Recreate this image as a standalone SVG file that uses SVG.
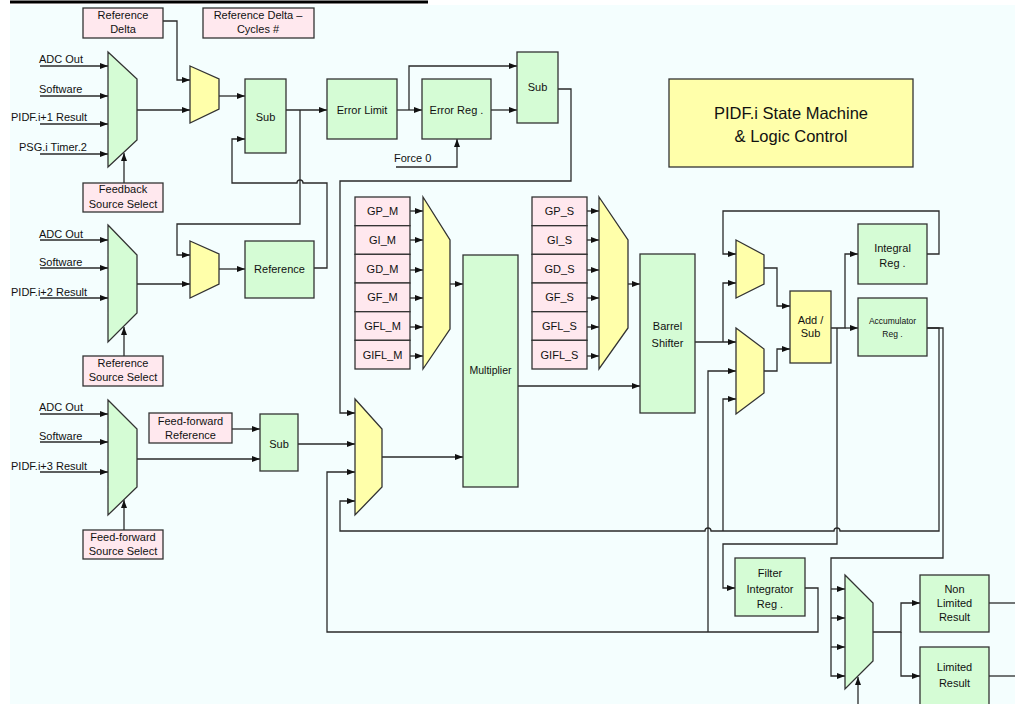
<svg xmlns="http://www.w3.org/2000/svg" width="1015" height="704" viewBox="0 0 1015 704">
<defs>
<marker id="ah" markerUnits="userSpaceOnUse" markerWidth="8" markerHeight="6" refX="8" refY="3" orient="auto"><path d="M0,0 L8,3 L0,6 z" fill="#111"/></marker>
<style>
.g{fill:#d5fcd5;stroke:#333;stroke-width:1.3}
.p{fill:#ffe8ee;stroke:#333;stroke-width:1.3}
.y{fill:#ffffaa;stroke:#333;stroke-width:1.3}
.w{fill:none;stroke:#2a2a2a;stroke-width:1.3}
.a{marker-end:url(#ah)}
text{font-family:"Liberation Sans",Arial,sans-serif;font-size:11px;fill:#111}
.c{text-anchor:middle}
</style>
</defs>
<rect x="0" y="0" width="1015" height="704" fill="#ffffff"/>
<rect x="10" y="5" width="1005" height="699" fill="#f4fefe"/>
<line x1="10" y1="2" x2="428" y2="2" stroke="#000" stroke-width="3"/>

<g id="connectors">
<path class="w a" d="M40,66 H108"/>
<path class="w a" d="M40,96 H108"/>
<path class="w a" d="M40,124 H108"/>
<path class="w a" d="M40,154 H108"/>
<path class="w a" d="M124,183 V153"/>
<path class="w a" d="M137,110 H190"/>
<path class="w a" d="M163,21 H177 V80 H190"/>
<path class="w a" d="M219,96 H245"/>
<path class="w a" d="M286,110 H327"/>
<path class="w a" d="M300,110 V224 H177 V255 H190"/>
<path class="w a" d="M314,268 H327 V183 H303 A3,3 0 0 0 297,183 H232 V139 H245"/>
<path class="w a" d="M40,240 H108"/>
<path class="w a" d="M40,268 H108"/>
<path class="w a" d="M40,298 H108"/>
<path class="w a" d="M124,356 V327"/>
<path class="w a" d="M137,284 H190"/>
<path class="w a" d="M219,269 H245"/>
<path class="w a" d="M40,414 H108"/>
<path class="w a" d="M40,442 H108"/>
<path class="w a" d="M40,472 H108"/>
<path class="w a" d="M124,530 V500"/>
<path class="w a" d="M137,459 H260"/>
<path class="w a" d="M232,429 H260"/>
<path class="w a" d="M298,444 H355"/>
<path class="w a" d="M397,110 H422"/>
<path class="w a" d="M409,110 V66 H517"/>
<path class="w a" d="M491,110 H517"/>
<path class="w a" d="M396,167 H457 V139"/>
<path class="w a" d="M558,89 H571 V181 H340 V413 H355"/>
<path class="w a" d="M410,211 H423"/>
<path class="w a" d="M410,240 H423"/>
<path class="w a" d="M410,270 H423"/>
<path class="w a" d="M410,298 H423"/>
<path class="w a" d="M410,327 H423"/>
<path class="w a" d="M410,356 H423"/>
<path class="w a" d="M450,284 H463"/>
<path class="w a" d="M587,211 H599"/>
<path class="w a" d="M587,240 H599"/>
<path class="w a" d="M587,270 H599"/>
<path class="w a" d="M587,298 H599"/>
<path class="w a" d="M587,327 H599"/>
<path class="w a" d="M587,356 H599"/>
<path class="w a" d="M628,284 H640"/>
<path class="w a" d="M518,386 H640"/>
<path class="w a" d="M382,457 H463"/>
<path class="w a" d="M695,342 H736"/>
<path class="w a" d="M723,342 V283 H736"/>
<path class="w a" d="M927,254 H939 V211 H723 V254 H736"/>
<path class="w a" d="M764,268 H777 V306 H790"/>
<path class="w a" d="M764,371 H777 V349 H790"/>
<path class="w a" d="M831,328 H845 V254 H858"/>
<path class="w a" d="M845,328 H858"/>
<path class="w a" d="M837,328 V544 H723 V588 H735"/>
<path class="w a" d="M927,328 H939 V531 H840 A3,3 0 0 0 834,531 H711 A3,3 0 0 0 705,531 H340 V501 H355"/>
<path class="w a" d="M723,531 V399 H736"/>
<path class="w a" d="M927,328 H943 V558 H831 V676 H845"/>
<path class="w a" d="M831,589 H845"/>
<path class="w a" d="M831,618 H845"/>
<path class="w a" d="M831,647 H845"/>
<path class="w a" d="M805,588 H818 V632 H327 V472 H355"/>
<path class="w a" d="M708,632 V371 H736"/>
<path class="w a" d="M873,632 H901 V603 H920"/>
<path class="w a" d="M901,632 V676 H920"/>
<path class="w a" d="M858,704 V677"/>
<path class="w" d="M989,603 H1015"/>
<path class="w" d="M989,676 H1015"/>
</g>

<g id="input-labels">
<text x="39" y="63">ADC Out</text>
<text x="39" y="93">Software</text>
<text x="11" y="121">PIDF.i+1  Result</text>
<text x="19" y="151">PSG.i Timer.2</text>
<text x="39" y="238">ADC Out</text>
<text x="39" y="266">Software</text>
<text x="11" y="296">PIDF.i+2  Result</text>
<text x="39" y="411">ADC Out</text>
<text x="39" y="440">Software</text>
<text x="11" y="470">PIDF.i+3  Result</text>
<text x="394" y="162">Force  0</text>
</g>

<g id="ref-delta"><rect class="p" x="83" y="8" width="80" height="30"/><text class="c" x="123" y="19">Reference</text><text class="c" x="123" y="33">Delta</text></g>
<g id="ref-delta-cycles"><rect class="p" x="203" y="8" width="111" height="30"/><text class="c" x="258" y="19">Reference Delta  –</text><text class="c" x="258" y="33">Cycles  #</text></g>
<g id="mux1"><polygon class="g" points="108,52 137,79 137,140 108,167"/></g>
<g id="fss"><rect class="p" x="83" y="183" width="80" height="29"/><text class="c" x="123" y="193">Feedback</text><text class="c" x="123" y="208">Source Select</text></g>
<g id="ymux1"><polygon class="y" points="190,66 219,79 219,109 190,123"/></g>
<g id="sub1"><rect class="g" x="245" y="79" width="41" height="74"/><text class="c" x="265.5" y="121">Sub</text></g>
<g id="mux2"><polygon class="g" points="108,225 137,255 137,313 108,342"/></g>
<g id="rss"><rect class="p" x="83" y="356" width="80" height="30"/><text class="c" x="123" y="367">Reference</text><text class="c" x="123" y="381">Source Select</text></g>
<g id="ymux2"><polygon class="y" points="190,241 219,254 219,284 190,298"/></g>
<g id="reference"><rect class="g" x="245" y="241" width="69" height="57"/><text class="c" x="279.5" y="273">Reference</text></g>
<g id="mux3"><polygon class="g" points="108,400 137,429 137,487 108,515"/></g>
<g id="ffss"><rect class="p" x="83" y="530" width="80" height="29"/><text class="c" x="123" y="541">Feed-forward</text><text class="c" x="123" y="555">Source Select</text></g>
<g id="ffref"><rect class="p" x="149" y="413" width="83" height="30"/><text class="c" x="190.5" y="425">Feed-forward</text><text class="c" x="190.5" y="439">Reference</text></g>
<g id="sub3"><rect class="g" x="260" y="414" width="38" height="57"/><text class="c" x="279" y="448">Sub</text></g>
<g id="error-limit"><rect class="g" x="327" y="79" width="70" height="60"/><text class="c" x="362" y="114">Error Limit</text></g>
<g id="error-reg"><rect class="g" x="422" y="79" width="69" height="60"/><text class="c" x="456.5" y="114">Error Reg .</text></g>
<g id="sub-top"><rect class="g" x="517" y="52" width="41" height="71"/><text class="c" x="537.5" y="91">Sub</text></g>
<g id="state-machine"><rect class="y" x="669" y="79" width="244" height="88"/><text class="c" x="791" y="119" style="font-size:16.5px">PIDF.i State Machine</text><text class="c" x="791" y="142" style="font-size:16.5px">&amp; Logic Control</text></g>

<g id="gains-m">
<rect class="p" x="355" y="197" width="55" height="28.7"/><text class="c" x="382.5" y="215">GP_M</text>
<rect class="p" x="355" y="225.7" width="55" height="28.7"/><text class="c" x="382.5" y="244">GI_M</text>
<rect class="p" x="355" y="254.3" width="55" height="28.7"/><text class="c" x="382.5" y="273">GD_M</text>
<rect class="p" x="355" y="283" width="55" height="28.7"/><text class="c" x="382.5" y="301">GF_M</text>
<rect class="p" x="355" y="311.7" width="55" height="28.7"/><text class="c" x="382.5" y="330">GFL_M</text>
<rect class="p" x="355" y="340.3" width="55" height="28.7"/><text class="c" x="382.5" y="359">GIFL_M</text>
</g>
<g id="mux-m"><polygon class="y" points="423,197 450,240 450,329 423,369"/></g>
<g id="multiplier"><rect class="g" x="463" y="255" width="55" height="232"/><text class="c" x="490.5" y="374" style="font-size:10.5px">Multiplier</text></g>
<g id="gains-s">
<rect class="p" x="532" y="197" width="55" height="28.7"/><text class="c" x="559.5" y="215">GP_S</text>
<rect class="p" x="532" y="225.7" width="55" height="28.7"/><text class="c" x="559.5" y="244">GI_S</text>
<rect class="p" x="532" y="254.3" width="55" height="28.7"/><text class="c" x="559.5" y="273">GD_S</text>
<rect class="p" x="532" y="283" width="55" height="28.7"/><text class="c" x="559.5" y="301">GF_S</text>
<rect class="p" x="532" y="311.7" width="55" height="28.7"/><text class="c" x="559.5" y="330">GFL_S</text>
<rect class="p" x="532" y="340.3" width="55" height="28.7"/><text class="c" x="559.5" y="359">GIFL_S</text>
</g>
<g id="mux-s"><polygon class="y" points="599,197 628,240 628,328 599,369"/></g>
<g id="barrel"><rect class="g" x="640" y="254" width="55" height="159"/><text class="c" x="667.5" y="330">Barrel</text><text class="c" x="667.5" y="347">Shifter</text></g>
<g id="ymux3"><polygon class="y" points="355,399 382,429 382,487 355,515"/></g>
<g id="mux-a"><polygon class="y" points="736,240 764,255 764,284 736,298"/></g>
<g id="mux-b"><polygon class="y" points="736,328 764,349 764,393 736,414"/></g>
<g id="add-sub"><rect class="y" x="790" y="291" width="41" height="72"/><text class="c" x="810.5" y="324">Add  /</text><text class="c" x="810.5" y="337">Sub</text></g>
<g id="integral"><rect class="g" x="858" y="224" width="69" height="60"/><text class="c" x="892.5" y="252">Integral</text><text class="c" x="892.5" y="267">Reg .</text></g>
<g id="accumulator"><rect class="g" x="858" y="298" width="69" height="58"/><text class="c" x="892.5" y="324" style="font-size:8.5px">Accumulator</text><text class="c" x="892.5" y="337" style="font-size:8.5px">Reg .</text></g>
<g id="filter-int"><rect class="g" x="735" y="558" width="70" height="58"/><text class="c" x="770" y="577">Filter</text><text class="c" x="770" y="593">Integrator</text><text class="c" x="770" y="608">Reg .</text></g>
<g id="mux-c"><polygon class="g" points="845,575 873,603 873,661 845,689"/></g>
<g id="non-limited"><rect class="g" x="920" y="575" width="69" height="57"/><text class="c" x="954.5" y="593">Non</text><text class="c" x="954.5" y="607">Limited</text><text class="c" x="954.5" y="621">Result</text></g>
<g id="limited"><rect class="g" x="920" y="647" width="69" height="60"/><text class="c" x="954.5" y="671">Limited</text><text class="c" x="954.5" y="687">Result</text></g>
</svg>
